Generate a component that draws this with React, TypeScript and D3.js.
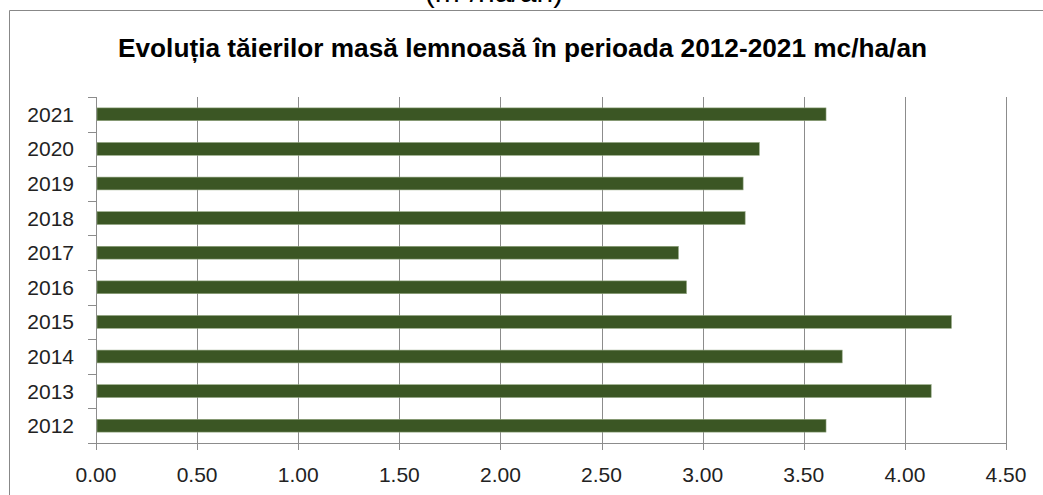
import React from "react";
import * as d3 from "d3";

const years = ["2012", "2013", "2014", "2015", "2016", "2017", "2018", "2019", "2020", "2021"];
const values = [3.61, 4.13, 3.69, 4.23, 2.92, 2.88, 3.21, 3.2, 3.28, 3.61];
const xTicks = [0, 0.5, 1, 1.5, 2, 2.5, 3, 3.5, 4, 4.5];
const title = "Evoluția tăierilor masă lemnoasă în perioada 2012-2021 mc/ha/an";
const topCaption = "(m³/ha/an)";

export default function App() {
  const W = 1043, H = 495;
  const left = 96, right = 1006, top = 97, bottom = 443;
  const x = d3.scaleLinear().domain([0, 4.5]).range([left, right]);
  const y = d3.scaleBand<string>().domain([...years].reverse()).range([top, bottom]).paddingInner(0.63).paddingOuter(0.315);
  const yEdges = d3.range(years.length + 1).map((i) => top + (i * (bottom - top)) / years.length);
  const font = "'Liberation Sans', Arial, sans-serif";
  const grid = "#8c8c8c";
  return (
    <svg width={W} height={H} style={{ position: "absolute", left: 0, top: 0, background: "#fff" }}>
      <rect x={0} y={0} width={W} height={H} fill="#fff" />
      <text x={494} y={2} textAnchor="middle" fontFamily={font} fontSize={30} fill="#000">{topCaption}</text>
      <path d={`M9.5,${H}V10.5H${W}`} fill="none" stroke="#888" strokeWidth={1} />
      <text x={118} y={57} fontFamily={font} fontWeight="bold" fontSize={25} fill="#000" textLength={809} lengthAdjust="spacingAndGlyphs">{title}</text>
      {xTicks.map((t) => (
        <g key={t}>
          <line x1={Math.round(x(t)) + 0.5} x2={Math.round(x(t)) + 0.5} y1={top} y2={bottom + 7} stroke={grid} strokeWidth={1} />
          <text x={x(t)} y={482} textAnchor="middle" fontFamily={font} fontSize={21} fill="#222">{t.toFixed(2)}</text>
        </g>
      ))}
      <line x1={left} x2={right} y1={bottom + 0.5} y2={bottom + 0.5} stroke={grid} strokeWidth={1} />
      {yEdges.map((e, i) => (
        <line key={i} x1={left - 8} x2={left} y1={Math.round(e) + 0.5} y2={Math.round(e) + 0.5} stroke={grid} strokeWidth={1} />
      ))}
      {years.map((yr, i) => (
        <g key={yr}>
          <rect x={x(0) + 1} y={y(yr)!} width={x(values[i]) - x(0) - 1} height={y.bandwidth()} fill="#3b5624" stroke="#8fa37e" strokeWidth={0.6} />
          <text x={74} y={y(yr)! + y.bandwidth() / 2 + 7.5} textAnchor="end" fontFamily={font} fontSize={21} fill="#222">{yr}</text>
        </g>
      ))}
    </svg>
  );
}
